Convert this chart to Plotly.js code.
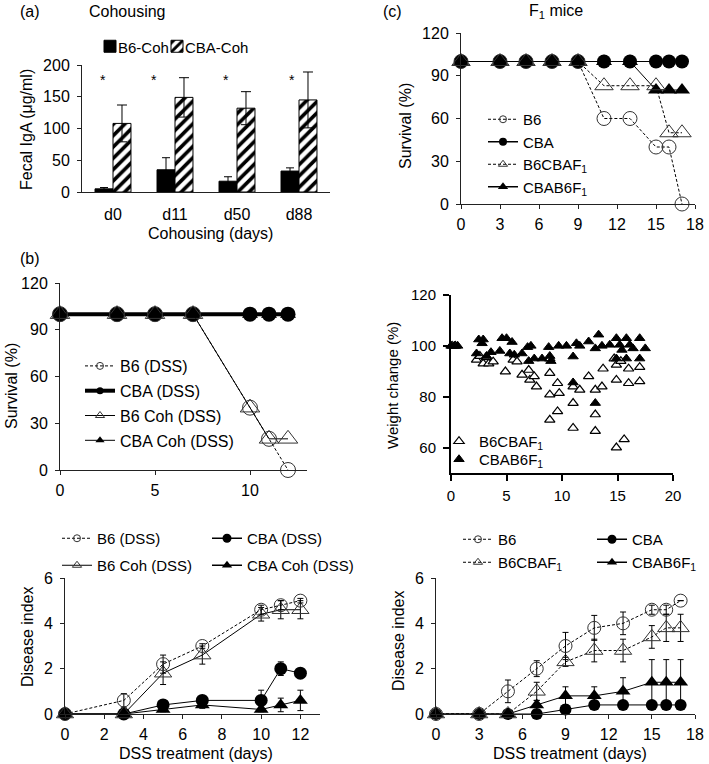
<!DOCTYPE html>
<html><head><meta charset="utf-8">
<script src="https://cdn.plot.ly/plotly-3.0.1.min.js"></script>
<style>html,body{margin:0;padding:0;background:#fff}#chart{width:709px;height:764px}</style>
</head><body><div id="chart"></div>
<script>
// ---------- DATA ----------
// (a) fecal IgA
const igaCategories = ['d0','d11','d50','d88'];
const igaB6 = [5, 35, 17, 33];
const igaB6Err = [2, 19, 7, 5];
const igaCBA = [108, 149, 132, 145];
const igaCBAErr = [29, 31, 26, 44];
const igaStars = ['*','*','*','*'];
const igaStarLevel = 176;
const igaLegendNames = ['B6-Coh', 'CBA-Coh'];

// (b) survival
const bSurvDays = [0, 3, 5, 7, 10, 11, 12];
const bSurvB6 = [100, 100, 100, 100, 40, 20, 0];
const bSurvCBA = [100, 100, 100, 100, 100, 100, 100];
const bSurvB6Coh = [100, 100, 100, 100, 40, 20, 20];
const bSurvCBACoh = [100, 100, 100, 100, 100, 100, 100];

// (b) disease index
const bDisDays = [0, 3, 5, 7, 10, 11, 12];
const bDisB6 = [0, 0.6, 2.2, 3.0, 4.6, 4.8, 5.0];
const bDisB6Err = [0, 0.3, 0.4, 0.1, 0.2, 0.2, 0.1];
const bDisCBA = [0, 0, 0.4, 0.6, 0.6, 2.0, 1.8];
const bDisCBAErr = [0, 0, 0.15, 0.1, 0.45, 0.3, 0.1];
const bDisB6Coh = [0, 0, 1.8, 2.6, 4.4, 4.6, 4.6];
const bDisB6CohErr = [0, 0, 0.5, 0.4, 0.3, 0.4, 0.4];
const bDisCBACoh = [0, 0, 0.2, 0.4, 0.2, 0.4, 0.6];
const bDisCBACohErr = [0, 0, 0.1, 0.15, 0.1, 0.3, 0.45];

// (c) survival
const cSurvDays = [0, 3, 5, 7, 9, 11, 13, 15, 16, 17];
const cSurvB6 = [100, 100, 100, 100, 100, 60, 60, 40, 40, 0];
const cSurvCBA = [100, 100, 100, 100, 100, 100, 100, 100, 100, 100];
const cSurvB6CBAF1 = [100, 100, 100, 100, 100, 83, 83, 83, 50, 50];
const cSurvCBAB6F1 = [100, 100, 100, 100, 100, 100, 100, 80, 80, 80];

// (c) weight change (individual mice)
const wCBAB6F1Days = [0, 0.3, 0.6, 2.3, 2.5, 2.8, 2.9, 3.2, 3.6, 4.4, 4.6, 5.0, 5.3, 5.5, 5.7, 6.4, 6.9, 7.0, 7.2, 7.5, 8.2, 8.8, 8.9, 9.0, 9.7, 10.4, 11.0, 11.0, 11.3, 11.6, 12.4, 13.0, 13.0, 13.3, 13.6, 14.3, 14.9, 14.9, 15.2, 15.4, 15.8, 15.8, 16.1, 16.4, 17.0, 17.0, 17.5];
const wCBAB6F1 =     [100, 100, 100, 97, 102.5, 101, 102.5, 96, 97.5, 98, 103, 103, 97, 101.5, 96.5, 97, 99.5, 94, 100, 95, 95, 99.5, 96, 94, 100, 100, 95.8, 85.6, 101, 100, 101.7, 99, 77.5, 104.4, 100, 100.4, 103, 95, 100.4, 98.4, 103, 95, 100.4, 99, 103, 95, 99];
const wB6CBAF1Days = [0.1, 0.4, 2.3, 2.6, 2.9, 3.2, 3.4, 3.8, 4.9, 5.6, 5.95, 6.4, 7.0, 7.1, 7.5, 7.7, 8.9, 8.9, 8.9, 8.9, 9.6, 9.75, 9.6, 11.0, 11.0, 11.6, 11.0, 12.4, 13.0, 13.6, 13.7, 13.0, 13.0, 14.7, 14.9, 16.0, 17.0, 14.9, 16.0, 17.0, 14.9, 15.6, 15.3];
const wB6CBAF1 =     [100, 100, 94.5, 96, 93, 95.5, 93, 93.8, 89.9, 94.5, 93.8, 88.6, 90.5, 86.6, 88, 84, 95, 89.3, 80.8, 70.9, 85.3, 81.4, 74.2, 84, 77.5, 82.7, 67.7, 88, 82.7, 84, 91, 73, 66.5, 95, 92.5, 91, 91.6, 86.6, 85.3, 86, 60, 63.2, 94];

// (c) disease index
const cDisDays = [0, 3, 5, 7, 9, 11, 13, 15, 16, 17];
const cDisB6 = [0, 0, 1.0, 2.0, 3.0, 3.8, 4.0, 4.6, 4.6, 5.0];
const cDisB6Err = [0, 0, 0.5, 0.35, 0.6, 0.55, 0.5, 0.2, 0.2, 0];
const cDisCBA = [0, 0, 0, 0, 0.2, 0.4, 0.4, 0.4, 0.4, 0.4];
const cDisCBAErr = [0, 0, 0, 0, 0, 0, 0, 0, 0, 0];
const cDisB6CBAF1 = [0, 0, 0, 1.0, 2.3, 2.8, 2.8, 3.4, 3.8, 3.8];
const cDisB6CBAF1Err = [0, 0, 0, 0.4, 0.2, 0.5, 0.5, 0.5, 0.6, 0.6];
const cDisCBAB6F1 = [0, 0, 0, 0.4, 0.8, 0.8, 1.0, 1.4, 1.4, 1.4];
const cDisCBAB6F1Err = [0, 0, 0, 0.2, 0.4, 0.4, 0.6, 1.0, 1.0, 1.0];

// ---------- LAYOUT HELPERS ----------
const W = 709, H = 764;
const FONT = 'Liberation Sans, Arial, Helvetica, sans-serif';
const dxr = (a, b) => [a / W, b / W];
const dyr = (top, bottom) => [1 - bottom / H, 1 - top / H];
const px = x => x / W;
const py = y => 1 - y / H;
const DASH = '3px,2px';
const AXC = '#222';

function ax(extra) {
  return Object.assign({
    showline: true, linecolor: AXC, linewidth: 1, ticks: 'outside', ticklen: 4, tickcolor: AXC,
    ticklabelstandoff: 4,
    showgrid: false, zeroline: false, tickfont: {family: FONT, size: 16, color: '#000'}, fixedrange: true
  }, extra);
}
function errs(arr, w) { return {type: 'data', array: arr, visible: true, color: '#000', thickness: 1, width: w || 3}; }

const traces = [];
// (a) bars
traces.push({type: 'bar', x: igaCategories, y: igaB6, name: '', xaxis: 'x', yaxis: 'y',
  marker: {color: '#000', line: {color: '#000', width: 1}}, error_y: errs(igaB6Err, 4), legend: 'legend'});
traces.push({type: 'bar', x: igaCategories, y: igaCBA, name: '', xaxis: 'x', yaxis: 'y',
  marker: {color: '#fff', line: {color: '#000', width: 1},
    pattern: {shape: '/', fgcolor: '#000', bgcolor: '#fff', size: 8, solidity: 0.45}},
  error_y: errs(igaCBAErr, 5), legend: 'legend9'});

function line(x, y, xa, ya, opts) {
  return Object.assign({type: 'scatter', mode: 'lines+markers', x: x, y: y, xaxis: xa, yaxis: ya,
    showlegend: false, cliponaxis: false}, opts);
}
function legendEntry(name, leg, lineOpt, markerOpt, group) {
  return {type: 'scatter', mode: lineOpt ? 'lines+markers' : 'markers', x: [null], y: [null], xaxis: 'x2', yaxis: 'y2',
    name: name, legend: leg, legendgroup: group, showlegend: true, line: lineOpt || {}, marker: markerOpt};
}
const openCircle = s => ({symbol: 'circle-open', size: s, color: '#333', line: {width: 1, color: '#333'}});
const fillCircle = s => ({symbol: 'circle', size: s, color: '#000'});
const openTri = s => ({symbol: 'triangle-up-open', size: s, color: '#333', line: {width: 1, color: '#333'}});
const fillTri = s => ({symbol: 'triangle-up', size: s, color: '#000'});

// (b) survival
traces.push(line(bSurvDays, bSurvCBA, 'x2', 'y2', {line: {color: '#000', width: 4}, marker: fillCircle(15)}));
traces.push(line(bSurvDays, bSurvCBACoh, 'x2', 'y2', {line: {color: '#000', width: 1}, marker: fillTri(14)}));
traces.push(line(bSurvDays, bSurvB6Coh, 'x2', 'y2', {line: {color: '#000', width: 1}, marker: openTri(17)}));
traces.push(line(bSurvDays, bSurvB6, 'x2', 'y2', {line: {color: '#000', width: 1, dash: DASH}, marker: openCircle(15)}));
traces.push(legendEntry('B6 (DSS)', 'legend2', {color: '#000', width: 1, dash: DASH}, openCircle(7), 'b1'));
traces.push(legendEntry('CBA (DSS)', 'legend2', {color: '#000', width: 4}, fillCircle(7), 'b2'));
traces.push(legendEntry('B6 Coh (DSS)', 'legend2', {color: '#000', width: 1}, openTri(8), 'b3'));
traces.push(legendEntry('CBA Coh (DSS)', 'legend2', {color: '#000', width: 1}, fillTri(8), 'b4'));

// (b) disease index
traces.push(line(bDisDays, bDisCBA, 'x3', 'y3', {line: {color: '#000', width: 1}, marker: fillCircle(13), error_y: errs(bDisCBAErr)}));
traces.push(line(bDisDays, bDisCBACoh, 'x3', 'y3', {line: {color: '#000', width: 1}, marker: fillTri(13), error_y: errs(bDisCBACohErr)}));
traces.push(line(bDisDays, bDisB6Coh, 'x3', 'y3', {line: {color: '#000', width: 1}, marker: openTri(15), error_y: errs(bDisB6CohErr)}));
traces.push(line(bDisDays, bDisB6, 'x3', 'y3', {line: {color: '#000', width: 1, dash: DASH}, marker: openCircle(13), error_y: errs(bDisB6Err)}));
traces.push(legendEntry('B6 (DSS)', 'legend3', {color: '#000', width: 1, dash: DASH}, openCircle(7), 'c1'));
traces.push(legendEntry('CBA (DSS)', 'legend11', {color: '#000', width: 1.5}, fillCircle(9), 'c2'));
traces.push(legendEntry('B6 Coh (DSS)', 'legend4', {color: '#000', width: 1}, openTri(8), 'c3'));
traces.push(legendEntry('CBA Coh (DSS)', 'legend12', {color: '#000', width: 1.5}, fillTri(9), 'c4'));

// (c) survival
traces.push(line(cSurvDays, cSurvCBA, 'x4', 'y4', {line: {color: '#000', width: 1}, marker: fillCircle(14)}));
traces.push(line(cSurvDays, cSurvCBAB6F1, 'x4', 'y4', {line: {color: '#000', width: 1}, marker: fillTri(14)}));
traces.push(line(cSurvDays, cSurvB6CBAF1, 'x4', 'y4', {line: {color: '#000', width: 1, dash: DASH}, marker: openTri(16)}));
traces.push(line(cSurvDays, cSurvB6, 'x4', 'y4', {line: {color: '#000', width: 1, dash: DASH}, marker: openCircle(14)}));
traces.push(legendEntry('B6', 'legend5', {color: '#000', width: 1, dash: DASH}, openCircle(7), 'd1'));
traces.push(legendEntry('CBA', 'legend5', {color: '#000', width: 1.5}, fillCircle(8), 'd2'));
traces.push(legendEntry('B6CBAF<sub>1</sub>', 'legend5', {color: '#000', width: 1, dash: DASH}, openTri(8), 'd3'));
traces.push(legendEntry('CBAB6F<sub>1</sub>', 'legend5', {color: '#000', width: 1.5}, fillTri(9), 'd4'));

// (c) weight change
traces.push({type: 'scatter', mode: 'markers', x: wB6CBAF1Days, y: wB6CBAF1, xaxis: 'x5', yaxis: 'y5', cliponaxis: false,
  name: 'B6CBAF<sub>1</sub>', legend: 'legend6', marker: {symbol: 'triangle-up', size: 9, color: '#fff', line: {color: '#000', width: 1.2}}});
traces.push({type: 'scatter', mode: 'markers', x: wCBAB6F1Days, y: wCBAB6F1, xaxis: 'x5', yaxis: 'y5', cliponaxis: false,
  name: 'CBAB6F<sub>1</sub>', legend: 'legend10', marker: {symbol: 'triangle-up', size: 9, color: '#000', line: {color: '#000', width: 1}}});

// (c) disease index
traces.push(line(cDisDays, cDisCBAB6F1, 'x6', 'y6', {line: {color: '#000', width: 1}, marker: fillTri(13), error_y: errs(cDisCBAB6F1Err)}));
traces.push(line(cDisDays, cDisCBA, 'x6', 'y6', {line: {color: '#000', width: 1}, marker: fillCircle(12), error_y: errs(cDisCBAErr)}));
traces.push(line(cDisDays, cDisB6CBAF1, 'x6', 'y6', {line: {color: '#000', width: 1, dash: DASH}, marker: openTri(15), error_y: errs(cDisB6CBAF1Err)}));
traces.push(line(cDisDays, cDisB6, 'x6', 'y6', {line: {color: '#000', width: 1, dash: DASH}, marker: openCircle(13), error_y: errs(cDisB6Err)}));
traces.push(legendEntry('B6', 'legend7', {color: '#000', width: 1, dash: DASH}, openCircle(7), 'f1'));
traces.push(legendEntry('CBA', 'legend13', {color: '#000', width: 1.5}, fillCircle(9), 'f2'));
traces.push(legendEntry('B6CBAF<sub>1</sub>', 'legend8', {color: '#000', width: 1, dash: DASH}, openTri(8), 'f3'));
traces.push(legendEntry('CBAB6F<sub>1</sub>', 'legend14', {color: '#000', width: 1.5}, fillTri(9), 'f4'));

function leg(x, y, size, extra) {
  return Object.assign({x: px(x), y: py(y), xref: 'paper', yref: 'paper', xanchor: 'left', yanchor: 'top',
    bgcolor: 'rgba(0,0,0,0)', borderwidth: 0, font: {family: FONT, size: size, color: '#000'}, tracegroupgap: 0}, extra);
}

// annotations
const ann = [];
function txt(x, y, text, opts) {
  ann.push(Object.assign({x: px(x), y: py(y), xref: 'paper', yref: 'paper', text: text, showarrow: false,
    font: {family: FONT, size: 16, color: '#000'}, xanchor: 'center', yanchor: 'middle'}, opts));
}
txt(30, 12, '(a)');
txt(127, 12, 'Cohousing');
txt(30, 258, '(b)');
txt(392, 12, '(c)');
txt(556, 12, 'F<sub>1</sub> mice');
txt(116, 47, igaLegendNames[0], {xanchor: 'left', font: {family: FONT, size: 15, color: '#000'}});
txt(183, 47, igaLegendNames[1], {xanchor: 'left', font: {family: FONT, size: 15, color: '#000'}});
txt(26, 130, 'Fecal IgA (μg/ml)', {textangle: -90});
txt(210, 233, 'Cohousing (days)');
txt(12, 386, 'Survival (%)', {textangle: -90});
txt(27, 637, 'Disease index', {textangle: -90});
txt(196, 753, 'DSS treatment (days)');
txt(406, 126, 'Survival (%)', {textangle: -90});
txt(393, 386, 'Weight change (%)', {textangle: -90, font: {family: FONT, size: 15, color: '#000'}});
txt(398, 641, 'Disease index', {textangle: -90});
txt(570, 753, 'DSS treatment (days)');
const starShift = [-10, -21, -11, -7];
igaStars.forEach((s, i) => ann.push({x: igaCategories[i], y: igaStarLevel, xref: 'x', yref: 'y', text: s, showarrow: false,
  xshift: starShift[i], font: {family: FONT, size: 14, color: '#000'}}));

const layout = {
  width: W, height: H, margin: {l: 0, r: 0, t: 0, b: 0, pad: 0, autoexpand: false}, paper_bgcolor: '#fff', plot_bgcolor: 'rgba(0,0,0,0)',
  font: {family: FONT, color: '#000'}, barmode: 'group', bargap: 0.42, bargroupgap: 0,
  xaxis: ax({domain: dxr(82, 330), anchor: 'y', type: 'category', range: [-0.5, 3.5], ticks: '', ticklabelstandoff: 8}),
  yaxis: ax({domain: dyr(65, 192), anchor: 'x', range: [0, 200], dtick: 50}),
  xaxis2: ax({domain: dxr(60, 307), anchor: 'y2', range: [0, 13], dtick: 5, ticklabelstandoff: 2}),
  yaxis2: ax({domain: dyr(283, 470), anchor: 'x2', range: [0, 120], dtick: 30}),
  xaxis3: ax({domain: dxr(65, 320), anchor: 'y3', range: [0, 13], dtick: 2, ticklabelstandoff: 2}),
  yaxis3: ax({domain: dyr(578, 714), anchor: 'x3', range: [0, 6], dtick: 2}),
  xaxis4: ax({domain: dxr(461, 695), anchor: 'y4', range: [0, 18], dtick: 3, ticklabelstandoff: 2}),
  yaxis4: ax({domain: dyr(33, 204), anchor: 'x4', range: [0, 120], dtick: 30}),
  xaxis5: ax({domain: dxr(451, 673), anchor: 'y5', range: [0, 20], dtick: 5, linewidth: 2, linecolor: '#000', tickwidth: 2, ticklen: 6, tickcolor: '#000', ticklabelstandoff: 2, tickfont: {family: FONT, size: 15, color: '#000'}}),
  yaxis5: ax({domain: dyr(295, 473), anchor: 'x5', range: [50, 120], tickvals: [60, 80, 100, 120], linewidth: 2, linecolor: '#000', tickwidth: 2, ticklen: 6, tickcolor: '#000', tickfont: {family: FONT, size: 15, color: '#000'}}),
  xaxis6: ax({domain: dxr(436, 695), anchor: 'y6', range: [0, 18], dtick: 3, ticklabelstandoff: 2}),
  yaxis6: ax({domain: dyr(578, 714), anchor: 'x6', range: [0, 6], dtick: 2}),
  legend: leg(90, 30, 15, {}),
  legend9: leg(157, 30, 15, {}),
  legend2: leg(80, 349, 16, {tracegroupgap: 1}),
  legend3: leg(57, 522, 15, {}),
  legend11: leg(207, 522, 15, {}),
  legend4: leg(57, 549, 15, {}),
  legend12: leg(207, 549, 15, {}),
  legend5: leg(483, 103, 15, {}),
  legend6: leg(439, 425, 15, {}),
  legend10: leg(439, 443, 15, {}),
  legend7: leg(458, 523, 15, {}),
  legend13: leg(592, 523, 15, {}),
  legend8: leg(458, 546, 15, {}),
  legend14: leg(592, 546, 15, {}),
  annotations: ann,
  showlegend: true
};
Plotly.newPlot('chart', traces, layout, {staticPlot: true, displayModeBar: false});
</script></body></html>
